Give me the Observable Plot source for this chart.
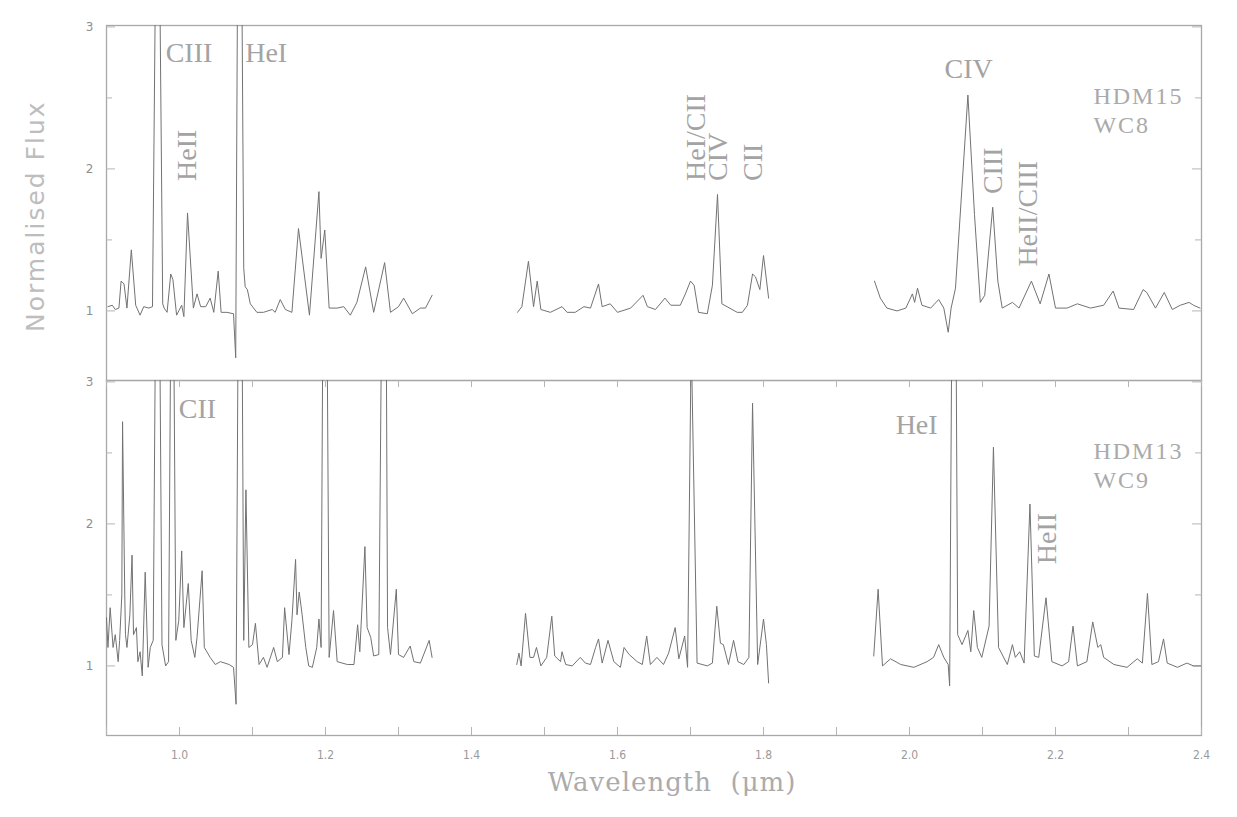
<!DOCTYPE html>
<html>
<head>
<meta charset="utf-8">
<script src="https://cdn.jsdelivr.net/npm/d3@7"></script>
<script src="https://cdn.jsdelivr.net/npm/@observablehq/plot@0.6"></script>
<style>
  html, body { margin: 0; padding: 0; background: #fff; }
  #chart { width: 1237px; height: 817px; }
</style>
</head>
<body>
<div id="chart"></div>
<script>
// ---------- data ----------
const stars = ["HDM15", "HDM13"];
const starTypes = ["WC8", "WC9"];

// HDM15 (WC8) spectrum, three wavelength windows: [wavelength µm, normalised flux]
const hdm15_a = [[0.902,1.03],[0.908,1.04],[0.912,1.01],[0.917,1.02],[0.920,1.21],[0.924,1.19],[0.928,1.02],[0.934,1.43],[0.940,1.04],[0.946,0.97],[0.951,1.03],[0.958,1.02],[0.963,1.03],[0.970,5.0],[0.977,1.05],[0.979,1.02],[0.983,0.99],[0.988,1.26],[0.991,1.22],[0.996,0.97],[1.003,1.04],[1.006,0.96],[1.011,1.69],[1.019,1.02],[1.024,1.12],[1.029,1.03],[1.036,1.03],[1.042,1.09],[1.047,0.99],[1.053,1.28],[1.057,0.99],[1.065,0.99],[1.074,0.98],[1.077,0.67],[1.082,6.0],[1.088,1.30],[1.090,1.17],[1.093,1.15],[1.097,1.05],[1.106,0.99],[1.115,0.99],[1.127,1.01],[1.131,0.99],[1.138,1.08],[1.145,1.01],[1.154,0.99],[1.163,1.58],[1.178,0.97],[1.191,1.84],[1.194,1.37],[1.199,1.57],[1.205,1.02],[1.216,1.02],[1.225,1.03],[1.234,0.97],[1.243,1.06],[1.255,1.31],[1.266,0.99],[1.281,1.34],[1.289,0.99],[1.300,1.03],[1.307,1.09],[1.319,0.98],[1.330,1.02],[1.337,1.02],[1.346,1.11]];
const hdm15_b = [[1.463,0.99],[1.469,1.03],[1.478,1.35],[1.485,1.03],[1.490,1.21],[1.495,1.01],[1.508,0.99],[1.524,1.03],[1.531,0.99],[1.542,0.99],[1.554,1.03],[1.563,1.02],[1.574,1.19],[1.579,1.03],[1.590,1.05],[1.600,0.99],[1.618,1.02],[1.635,1.11],[1.641,1.03],[1.652,1.01],[1.665,1.09],[1.673,1.04],[1.686,1.04],[1.693,1.12],[1.700,1.21],[1.705,1.18],[1.711,0.99],[1.723,0.98],[1.730,1.18],[1.737,1.82],[1.743,1.05],[1.750,1.03],[1.764,0.99],[1.771,0.99],[1.778,1.04],[1.785,1.26],[1.789,1.24],[1.795,1.15],[1.800,1.39],[1.807,1.09]];
const hdm15_c = [[1.952,1.21],[1.960,1.09],[1.969,1.02],[1.983,1.00],[1.995,1.02],[2.004,1.12],[2.007,1.06],[2.011,1.16],[2.017,1.04],[2.029,1.02],[2.040,1.08],[2.047,1.02],[2.053,0.85],[2.057,1.02],[2.063,1.16],[2.080,2.52],[2.089,1.68],[2.097,1.06],[2.103,1.11],[2.114,1.73],[2.121,1.21],[2.127,1.02],[2.141,1.06],[2.150,1.02],[2.167,1.21],[2.179,1.05],[2.191,1.26],[2.200,1.02],[2.216,1.02],[2.230,1.05],[2.248,1.02],[2.266,1.04],[2.279,1.14],[2.287,1.02],[2.307,1.01],[2.320,1.15],[2.325,1.13],[2.337,1.02],[2.349,1.13],[2.360,1.01],[2.371,1.04],[2.383,1.06],[2.389,1.04],[2.398,1.02]];

// HDM13 (WC9) spectrum
const hdm13_a = [[0.900,1.34],[0.902,1.13],[0.905,1.41],[0.909,1.13],[0.912,1.22],[0.916,1.03],[0.918,1.18],[0.921,1.50],[0.922,2.72],[0.925,1.50],[0.926,1.22],[0.928,1.13],[0.932,1.36],[0.935,1.78],[0.937,1.22],[0.941,1.27],[0.943,1.03],[0.946,1.10],[0.949,0.93],[0.953,1.66],[0.957,0.99],[0.960,1.13],[0.964,1.18],[0.970,5.5],[0.976,1.15],[0.981,1.00],[0.985,1.03],[0.990,5.0],[0.995,1.18],[0.999,1.32],[1.003,1.81],[1.006,1.27],[1.012,1.58],[1.016,1.18],[1.021,1.06],[1.024,1.20],[1.031,1.67],[1.034,1.13],[1.042,1.06],[1.049,1.01],[1.056,1.03],[1.068,1.01],[1.074,0.99],[1.0775,0.73],[1.083,6.0],[1.088,1.18],[1.091,2.24],[1.095,1.13],[1.100,1.15],[1.104,1.30],[1.109,1.01],[1.115,1.06],[1.120,0.99],[1.129,1.13],[1.134,1.03],[1.141,1.06],[1.144,1.41],[1.150,1.08],[1.154,1.32],[1.159,1.75],[1.161,1.36],[1.164,1.52],[1.168,1.36],[1.173,1.13],[1.177,1.00],[1.182,0.99],[1.188,1.13],[1.191,1.33],[1.194,1.13],[1.199,6.0],[1.205,1.06],[1.211,1.39],[1.216,1.03],[1.230,1.01],[1.239,1.01],[1.244,1.29],[1.247,1.10],[1.254,1.84],[1.257,1.27],[1.262,1.20],[1.266,1.07],[1.273,1.08],[1.281,6.0],[1.285,1.27],[1.289,1.08],[1.297,1.54],[1.300,1.08],[1.307,1.06],[1.316,1.14],[1.321,1.03],[1.330,1.02],[1.342,1.18],[1.346,1.06]];
const hdm13_b = [[1.462,1.01],[1.465,1.09],[1.468,1.00],[1.474,1.37],[1.480,1.06],[1.485,1.06],[1.489,1.13],[1.495,1.00],[1.503,1.06],[1.510,1.35],[1.514,1.07],[1.522,1.03],[1.524,1.10],[1.529,1.01],[1.538,1.00],[1.549,1.06],[1.556,1.02],[1.563,1.01],[1.570,1.13],[1.574,1.19],[1.579,1.02],[1.587,1.18],[1.595,1.03],[1.604,0.99],[1.609,1.13],[1.616,1.08],[1.627,1.03],[1.634,1.01],[1.640,1.21],[1.645,1.01],[1.654,1.06],[1.663,1.01],[1.670,1.09],[1.679,1.27],[1.684,1.05],[1.692,1.21],[1.696,0.99],[1.701,3.3],[1.709,1.02],[1.723,1.00],[1.730,1.02],[1.736,1.42],[1.741,1.16],[1.745,1.15],[1.752,1.01],[1.759,1.18],[1.765,1.03],[1.773,1.01],[1.780,1.06],[1.785,2.85],[1.792,1.01],[1.800,1.33],[1.804,1.15],[1.807,0.88]];
const hdm13_c = [[1.951,1.07],[1.957,1.54],[1.963,1.00],[1.974,1.05],[1.988,1.01],[2.006,0.99],[2.024,1.03],[2.033,1.06],[2.040,1.15],[2.047,1.06],[2.053,1.01],[2.055,0.86],[2.061,6.0],[2.066,1.22],[2.072,1.15],[2.080,1.25],[2.084,1.10],[2.088,1.39],[2.093,1.13],[2.099,1.06],[2.109,1.28],[2.115,2.54],[2.122,1.13],[2.134,1.01],[2.141,1.15],[2.145,1.06],[2.151,1.10],[2.157,1.02],[2.165,2.14],[2.171,1.07],[2.177,1.06],[2.187,1.48],[2.195,1.03],[2.209,1.00],[2.218,1.03],[2.224,1.28],[2.230,1.00],[2.243,1.03],[2.251,1.31],[2.258,1.13],[2.262,1.15],[2.266,1.06],[2.280,1.01],[2.298,0.99],[2.312,1.05],[2.319,1.02],[2.326,1.51],[2.332,1.01],[2.341,1.03],[2.348,1.19],[2.353,1.02],[2.367,0.99],[2.380,1.02],[2.389,1.00],[2.400,1.00]];

// axis ticks and labels
const xDomain = [0.9, 2.4];
const yDomain = [0.51, 3.01];
const xTicksAll = [0.9,1.0,1.1,1.2,1.3,1.4,1.5,1.6,1.7,1.8,1.9,2.0,2.1,2.2,2.3,2.4];
const xTickLabels = [1.0,1.2,1.4,1.6,1.8,2.0,2.2,2.4];
const yMajor = [1, 2, 3];
const yMinor = [1.5, 2.5];
const xTitle = "Wavelength\u00a0\u00a0(μm)";
const yTitle = "Normalised Flux";

// line identifications (horizontal and vertical)
const idsHorizontal = [
  {star: "HDM15", text: "CIII",  x: 0.981, y: 2.816},
  {star: "HDM15", text: "HeI",   x: 1.090, y: 2.816},
  {star: "HDM15", text: "CIV",   x: 2.048, y: 2.706},
  {star: "HDM13", text: "CII",   x: 0.999, y: 2.807},
  {star: "HDM13", text: "HeI",   x: 1.981, y: 2.695}
];
const idsVertical = [
  {star: "HDM15", text: "HeII",      x: 1.011, y: 1.915},
  {star: "HDM15", text: "HeI/CII",   x: 1.708, y: 1.915},
  {star: "HDM15", text: "CIV",       x: 1.738, y: 1.915},
  {star: "HDM15", text: "CII",       x: 1.785, y: 1.915},
  {star: "HDM15", text: "CIII",      x: 2.114, y: 1.823},
  {star: "HDM15", text: "HeII/CIII", x: 2.163, y: 1.312},
  {star: "HDM13", text: "HeII",      x: 2.189, y: 1.716}
];
// star name and type label positions (data units)
const starLabelX = [2.252, 2.252];
const nameY = [2.51, 2.51];
const typeY = [2.31, 2.31];

// ---------- build tables ----------
const segments = [
  {star: "HDM15", id: "a", pts: hdm15_a}, {star: "HDM15", id: "b", pts: hdm15_b}, {star: "HDM15", id: "c", pts: hdm15_c},
  {star: "HDM13", id: "a", pts: hdm13_a}, {star: "HDM13", id: "b", pts: hdm13_b}, {star: "HDM13", id: "c", pts: hdm13_c}
];
const rows = [];
for (const s of segments) for (const [x, y] of s.pts) rows.push({star: s.star, seg: s.star + s.id, x, y});
const xTickRows = xTicksAll.map(x => ({x, star: "HDM13"}));
const starRows = [];
stars.forEach((s, i) => {
  starRows.push({star: s, text: s, x: starLabelX[i], y: nameY[i]});
  starRows.push({star: s, text: starTypes[i], x: starLabelX[i], y: typeY[i]});
});

const W = 1237, H = 817;
const mTop = 25, mBottom = 82, mLeft = 106, mRight = 36;
const frameW = W - mLeft - mRight;
const facetH = (H - mTop - mBottom) / stars.length;

const grey = "#a3a3a3";
const serif = "'Liberation Serif', 'DejaVu Serif', serif";

const chart = Plot.plot({
  width: W, height: H,
  marginTop: mTop, marginBottom: mBottom, marginLeft: mLeft, marginRight: mRight,
  x: {domain: xDomain},
  y: {domain: yDomain},
  fy: {domain: stars, axis: null, padding: 0},
  style: {background: "#fff", fontFamily: serif},
  marks: [
    Plot.frame({stroke: "#a8a8a8", strokeWidth: 1.3}),
    // y ticks inward, left and right
    Plot.ruleY(yMajor, {y: d => d, insetRight: frameW - 9, stroke: "#b5b5b5"}),
    Plot.ruleY(yMinor, {y: d => d, insetRight: frameW - 6, stroke: "#b5b5b5"}),
    Plot.ruleY(yMajor, {y: d => d, insetLeft: frameW - 9, stroke: "#b5b5b5"}),
    Plot.ruleY(yMinor, {y: d => d, insetLeft: frameW - 6, stroke: "#b5b5b5"}),
    // x ticks on lower panel (bottom edge up, top edge down)
    Plot.ruleX(xTickRows, {x: "x", fy: "star", insetTop: facetH - 8, stroke: "#b5b5b5"}),
    Plot.ruleX(xTickRows, {x: "x", fy: "star", insetBottom: facetH - 7, stroke: "#b5b5b5"}),
    Plot.axisY({ticks: yMajor, tickSize: 0, tickPadding: 13, tickFormat: d3.format("d"), label: null,
      fontSize: 12, color: "#8e8e8e", fontFamily: "'DejaVu Sans', sans-serif"}),
    Plot.axisX({ticks: xTickLabels, tickSize: 0, tickPadding: 15, tickFormat: d3.format(".1f"), label: null,
      fontSize: 12, color: "#9a9a9a", fontFamily: "'DejaVu Sans Condensed', 'DejaVu Sans', sans-serif"}),
    // spectra
    Plot.line(rows, {x: "x", y: "y", z: "seg", fy: "star", stroke: "#727272", strokeWidth: 1, clip: true}),
    // line identifications
    Plot.text(idsHorizontal, {x: "x", y: "y", fy: "star", text: "text", textAnchor: "start", lineAnchor: "middle",
      fontSize: 28, fill: grey, fontFamily: serif}),
    Plot.text(idsVertical, {x: "x", y: "y", fy: "star", text: "text", rotate: -90, textAnchor: "start", lineAnchor: "middle",
      fontSize: 28, fill: grey, fontFamily: serif}),
    // star name and spectral type
    Plot.text(starRows, {x: "x", y: "y", fy: "star", text: "text", textAnchor: "start", lineAnchor: "middle",
      fontSize: 24, fill: "#aaaaaa", fontFamily: serif, letterSpacing: 1}),
    // axis titles
    Plot.text([xTitle], {text: d => d, fy: () => "HDM13", frameAnchor: "bottom", dx: 18, dy: 55,
      fontSize: 26, fill: "#ababab", fontFamily: "'DejaVu Serif', serif"}),
    Plot.text([yTitle], {text: d => d, fy: () => "HDM15", frameAnchor: "left", dx: -71, dy: 129, rotate: -90,
      fontSize: 25, fill: "#bdbdbd", fontFamily: "'DejaVu Sans', sans-serif"})
  ]
});
// letter spacing for a looser stroke-font look
chart.querySelectorAll("text").forEach(t => {
  if (t.textContent === xTitle) t.setAttribute("letter-spacing", "1");
  if (t.textContent === yTitle) t.setAttribute("letter-spacing", "2");
  if (stars.includes(t.textContent) || starTypes.includes(t.textContent)) t.setAttribute("letter-spacing", "2");
});
document.getElementById("chart").appendChild(chart);
</script>
</body>
</html>
